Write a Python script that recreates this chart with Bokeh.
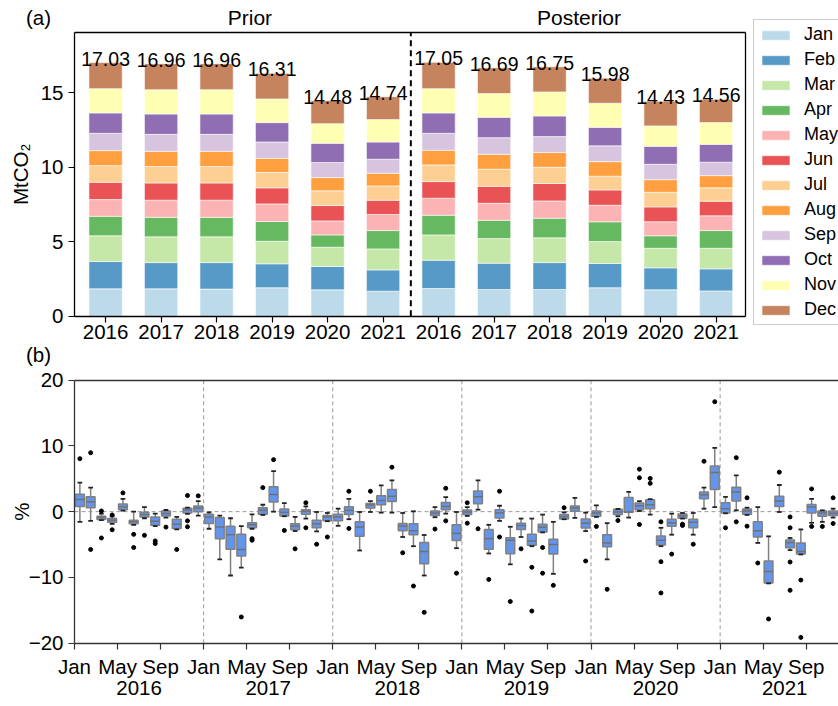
from math import pi

from bokeh.plotting import figure
from bokeh.models import (Range1d, Legend, LegendItem, FixedTicker, LinearAxis,
                          ColumnDataSource)
from bokeh.layouts import column
from bokeh.transform import dodge
from bokeh.embed import file_html
from bokeh.resources import INLINE
from bokeh.core.properties import value

FONT = "Liberation Sans"

# ---------------- (a) monthly emissions, MtCO2 ----------------
months = ["Jan", "Feb", "Mar", "Apr", "May", "Jun",
          "Jul", "Aug", "Sep", "Oct", "Nov", "Dec"]
years = [2016, 2017, 2018, 2019, 2020, 2021]

prior_2016 = [1.84, 1.83, 1.73, 1.31, 1.12, 1.16, 1.12, 1.01, 1.16, 1.37, 1.63, 1.75]
prior_2017 = [1.84, 1.76, 1.73, 1.31, 1.15, 1.16, 1.10, 1.02, 1.14, 1.37, 1.63, 1.75]
prior_2018 = [1.82, 1.78, 1.73, 1.31, 1.15, 1.16, 1.10, 1.02, 1.14, 1.37, 1.63, 1.75]
prior_2019 = [1.91, 1.61, 1.51, 1.33, 1.18, 1.08, 1.04, 0.94, 1.10, 1.30, 1.59, 1.72]
prior_2020 = [1.77, 1.57, 1.29, 0.83, 0.94, 1.03, 0.99, 0.89, 1.01, 1.29, 1.32, 1.55]
prior_2021 = [1.68, 1.43, 1.41, 1.23, 1.08, 0.96, 0.96, 0.85, 0.94, 1.16, 1.50, 1.54]

posterior_2016 = [1.86, 1.90, 1.70, 1.32, 1.14, 1.12, 1.12, 0.98, 1.14, 1.37, 1.63, 1.77]
posterior_2017 = [1.79, 1.77, 1.65, 1.23, 1.14, 1.14, 1.15, 1.00, 1.12, 1.37, 1.59, 1.74]
posterior_2018 = [1.79, 1.81, 1.66, 1.32, 1.16, 1.17, 1.09, 0.99, 1.07, 1.39, 1.61, 1.69]
posterior_2019 = [1.91, 1.63, 1.47, 1.33, 1.11, 1.03, 0.92, 0.98, 1.06, 1.24, 1.62, 1.68]
posterior_2020 = [1.77, 1.48, 1.31, 0.84, 0.94, 1.00, 0.98, 0.85, 1.03, 1.21, 1.37, 1.65]
posterior_2021 = [1.70, 1.48, 1.38, 1.19, 0.99, 0.98, 0.90, 0.82, 0.90, 1.20, 1.46, 1.56]

month_colors = ["#a6cee3", "#1f78b4", "#b2df8a", "#33a02c", "#fb9a99", "#e31a1c",
                "#fdbf6f", "#ff7f00", "#cab2d6", "#6a3d9a", "#ffff99", "#b15928"]

# ---------------- (b) monthly relative change, % ----------------
# one box per month from Jan 2016
whisker_lo = [-1.55, -1.4, -1.3, -1.85, 0.15, -2.0, -1.0, -2.2, -0.9, -2.7, -0.35, -0.6,
              -2.6, -7.25, -9.7, -8.5, -2.6, -0.5, 0.0, -0.7, -2.95, -1.05, -3.0, -1.45,
              -2.15, -1.15, -5.9, -0.05, -0.15, -0.15, -3.85, -5.25, -9.7, -0.85, -0.3, -5.55,
              -0.65, 0.3, -6.35, -1.4, -8.0, -3.85, -5.25, -3.15, -9.45, -1.15, -0.95, -2.95,
              -0.8, -7.25, -0.7, -0.9, 0.1, -0.45, -5.25, -3.5, -1.05, -3.5, 0.45, 0.7,
              -0.25, 0.2, -0.5, -4.75, -10.9, -0.05, -5.85, -6.5, -1.7, -1.55, -0.9]
quart_lo = [0.8, 0.6, -1.2, -1.6, 0.3, -1.85, -0.8, -2.05, -0.65, -2.55, -0.2, 0.0,
            -1.8, -4.1, -5.7, -6.75, -2.45, -0.4, 1.45, -0.65, -2.75, -0.4, -2.45, -1.4,
            -1.4, -0.45, -3.75, 0.55, 1.05, 1.55, -2.9, -3.5, -7.9, -0.6, 0.3, -4.4,
            -0.45, 1.2, -5.7, -0.95, -6.4, -2.7, -5.1, -3.1, -6.45, -1.1, 0.05, -2.5,
            -0.7, -5.35, -0.45, -0.1, 0.3, 0.45, -5.05, -2.2, -1.0, -2.45, 1.95, 3.35,
            -0.2, 1.6, -0.4, -3.85, -10.85, 0.8, -5.5, -6.45, -0.2, -0.7, -0.6]
medians = [1.85, 1.5, -0.9, -1.3, 0.75, -1.55, -0.45, -1.45, -0.3, -1.9, 0.25, 0.55,
           -0.8, -2.35, -3.5, -5.75, -2.0, 0.2, 2.6, -0.1, -2.2, 0.05, -1.85, -0.8,
           -0.8, 0.2, -2.35, 1.0, 1.7, 2.35, -2.2, -2.9, -6.05, -0.2, 0.8, -3.3,
           -0.05, 2.25, -4.1, -0.2, -4.35, -2.1, -4.45, -2.35, -5.0, -0.75, 0.55, -1.75,
           -0.2, -4.75, -0.05, -0.05, 0.9, 1.05, -4.35, -1.7, -0.65, -1.6, 2.55, 5.95,
           0.45, 3.0, 0.1, -2.9, -9.1, 1.6, -4.7, -6.05, 0.7, -0.2, -0.25]
quart_hi = [2.65, 2.25, -0.7, -1.05, 1.15, -1.3, -0.1, -0.8, 0.1, -1.15, 0.5, 0.85,
            -0.4, -0.9, -2.2, -3.45, -1.7, 0.6, 3.8, 0.4, -1.85, 0.3, -1.3, -0.6,
            -0.4, 0.75, -1.55, 1.25, 2.4, 3.35, -1.8, -1.85, -4.7, 0.1, 1.4, -2.0,
            0.25, 3.15, -2.7, 0.3, -3.95, -1.75, -3.45, -1.9, -4.2, -0.45, 0.85, -1.1,
            0.1, -3.5, 0.35, 2.15, 1.3, 1.8, -3.7, -1.15, -0.35, -1.15, 3.0, 6.95,
            1.35, 3.7, 0.4, -1.55, -7.5, 2.35, -4.3, -4.75, 1.1, 0.1, 0.1]
whisker_hi = [4.4, 3.65, -0.3, -0.7, 1.95, 0.0, 0.7, -0.3, 0.25, -0.8, 0.6, 1.6,
              -0.1, -0.6, -1.0, -2.2, -0.4, 1.05, 6.15, 1.3, -0.8, 0.8, -0.05, -0.2,
              0.45, 1.95, -0.05, 1.6, 4.0, 4.75, -0.2, 0.05, -3.55, 0.7, 2.2, -0.05,
              0.7, 4.75, -2.0, 0.9, -2.3, -1.05, -1.05, -0.45, -1.55, -0.1, 2.1, -0.15,
              0.95, -1.75, 0.4, 3.0, 1.6, 1.9, -2.45, -0.3, -0.2, -0.2, 3.65, 9.7,
              2.25, 5.5, 0.6, 0.7, -3.75, 4.05, -4.0, -2.7, 1.95, 0.2, 0.45]
outliers = [[8.05], [8.95, -5.75], [0.1, -4.0], [-0.5, -2.75], [2.85], [-3.45, -5.45],
            [-3.6], [-4.45, -4.85], [-2.35], [-5.75], [2.45, -1.4, -2.3], [2.4],
            [], [], [], [-16.0], [-4.1, -4.35], [3.65],
            [7.9], [-2.85], [-5.65], [1.35, -2.45], [-4.95], [-3.85],
            [], [3.1, -2.55], [], [3.1], [], [6.75],
            [-6.25], [-11.3], [-15.3], [-2.65], [3.55, -1.4], [-9.35],
            [1.35, -1.75], [-2.6], [-10.3], [3.1, -3.85], [-13.65], [-5.65],
            [-8.45, -15.1], [-5.45, -9.35], [-11.2], [0.6], [], [-7.5],
            [-2.25], [-11.8], [-1.35], [], [6.45, 5.15, -1.95], [5.05, 4.3],
            [-1.55, -7.6, -12.35], [-6.45], [-1.9, -2.1], [-4.95], [7.65], [16.7],
            [-2.45], [8.2, -1.55], [2.1, -2.2], [-7.8], [-16.3], [6.0],
            [-0.8, -2.45, -7.65, -11.95], [-10.4, -19.1], [3.45, -2.25], [-2.25], [2.1, -1.8]]

month_ticks = {0: "Jan", 4: "May", 8: "Sep"}

TICK_FONT = "20.5px"
TOP_H = 367          # canvas height of panel (a); panel (b) fills the rest
BOTTOM_H = 706 - TOP_H


def padded_ranges(xlim, ylim, box_px, size_px):
    """Ranges for a frame covering the whole canvas, such that the axes box
    (left, right, top, bottom in canvas pixels) spans xlim / ylim."""
    left, right, top, bottom = box_px
    w, h = size_px
    ux = (xlim[1] - xlim[0]) / (right - left)
    uy = (ylim[1] - ylim[0]) / (bottom - top)
    xr = Range1d(xlim[0] - left * ux, xlim[1] + (w - right) * ux)
    yr = Range1d(ylim[0] - (h - bottom) * uy, ylim[1] + top * uy)
    return xr, yr


def style_axis(ax, line_color="black"):
    ax.major_label_text_font = FONT
    ax.major_label_text_font_size = TICK_FONT
    ax.major_label_text_color = "black"
    ax.minor_tick_line_color = None
    ax.major_tick_in = 0
    ax.major_tick_out = 6
    ax.major_tick_line_color = line_color
    ax.major_tick_line_width = 1.2
    ax.axis_line_color = line_color
    ax.axis_line_width = 1.3


def frame_edge(p, side, loc, bounds, line_color):
    ax = LinearAxis(ticker=FixedTicker(ticks=[]), fixed_location=loc, bounds=bounds)
    ax.axis_line_color = line_color
    ax.axis_line_width = 1.3
    ax.major_tick_line_color = None
    ax.minor_tick_line_color = None
    p.add_layout(ax, side)


def new_figure(w, h, xlim, ylim, box_px):
    xr, yr = padded_ranges(xlim, ylim, box_px, (w, h))
    p = figure(width=w, height=h, x_range=xr, y_range=yr, title=None,
               output_backend="svg", toolbar_location=None,
               min_border_left=0, min_border_right=0, min_border_top=0, min_border_bottom=0)
    p.xgrid.grid_line_color = None
    p.ygrid.grid_line_color = None
    p.outline_line_color = None
    p.background_fill_color = "white"
    p.border_fill_color = "white"
    return p


def put_text(p, x, y, text, size="20.5px", **kw):
    p.text(x=[x], y=[y], text=[text], text_align="center", text_baseline="middle",
           text_font=value(FONT), text_font_size=size, text_color="black", **kw)


# ================= panel (a) =================
XA = (-0.56, 11.53)
YA = (0, 19.05)
p1 = new_figure(838, TOP_H, XA, YA, (74, 745, 32, 315.7))

bars = [prior_2016, prior_2017, prior_2018, prior_2019, prior_2020, prior_2021,
        posterior_2016, posterior_2017, posterior_2018, posterior_2019, posterior_2020, posterior_2021]
bar_x = list(range(len(bars)))
stack_data = {"x": bar_x}
for m_i, m in enumerate(months):
    stack_data[m] = [b[m_i] for b in bars]
stack_src = ColumnDataSource(stack_data)

stack = p1.vbar_stack(months, x="x", width=0.6, color=month_colors, fill_alpha=0.75,
                      line_color="white", line_alpha=0.6, line_width=1, source=stack_src)

totals = [sum(b) for b in bars]
p1.text(x=bar_x, y=totals, text=[f"{t:.2f}" for t in totals], text_align="center",
        text_baseline="alphabetic", y_offset=-4, text_font=value(FONT),
        text_font_size="19.5px", text_color="black")

# prior | posterior divider
p1.segment(x0=[5.5], y0=[YA[0]], x1=[5.5], y1=[YA[1]], line_color="black",
           line_dash="6 4", line_width=2)

p1.xaxis.fixed_location = YA[0]
p1.xaxis.bounds = XA
p1.xaxis.ticker = FixedTicker(ticks=bar_x)
p1.xaxis.major_label_overrides = {i: str(years[i % 6]) for i in bar_x}
p1.xaxis.major_label_standoff = 3
p1.yaxis.fixed_location = XA[0]
p1.yaxis.bounds = YA
p1.yaxis.ticker = FixedTicker(ticks=[0, 5, 10, 15])
p1.yaxis.major_label_standoff = 5
for ax in p1.xaxis + p1.yaxis:
    style_axis(ax)
frame_edge(p1, "above", YA[1], XA, "black")
frame_edge(p1, "right", XA[1], YA, "black")

put_text(p1, 2.6, YA[1], "Prior", size="21px", y_offset=-15)
put_text(p1, 8.53, YA[1], "Posterior", size="21px", y_offset=-15)
put_text(p1, XA[0], YA[1], "(a)", x_offset=-36, y_offset=-15)
put_text(p1, XA[0], (YA[0] + YA[1]) / 2, "MtCO₂", x_offset=-54, angle=pi / 2)
# label of the lower panel sits in the gap below this one
put_text(p1, XA[0], YA[0], "(b)", x_offset=-36, y_offset=38.5)

legend = Legend(items=[LegendItem(label=m, renderers=[r]) for m, r in zip(months, stack)],
                location=(753, TOP_H - 325), glyph_width=35, glyph_height=12,
                label_height=20, label_width=60, spacing=4, padding=4, label_standoff=11,
                label_text_font=FONT, label_text_font_size="18px", label_text_color="black",
                border_line_color="#cccccc", border_line_width=1, border_line_alpha=1,
                background_fill_color="white", background_fill_alpha=1)
p1.add_layout(legend)

# ================= panel (b) =================
n_box = len(medians)
XB = (0, 71.0)
YB = (-20, 20)
p2 = new_figure(838, BOTTOM_H, XB, YB, (74, 838, 379.5 - TOP_H, 642.8 - TOP_H))

# year boundaries and zero line
year_starts = [12 * k for k in range(1, 6)]
p2.segment(x0=year_starts, y0=[YB[0]] * 5, x1=year_starts, y1=[YB[1]] * 5,
           line_color="#9a9a9a", line_dash="4 3", line_width=1)
p2.segment(x0=[XB[0]], y0=[0], x1=[XB[1]], y1=[0], line_color="#9a9a9a",
           line_dash="4 3", line_width=1)

box_src = ColumnDataSource(dict(x=[i + 0.5 for i in range(n_box)], lo=whisker_lo, q1=quart_lo,
                                med=medians, q3=quart_hi, hi=whisker_hi))
p2.segment(x0="x", y0="q3", x1="x", y1="hi", line_color="#808080", line_width=1.5, source=box_src)
p2.segment(x0="x", y0="lo", x1="x", y1="q1", line_color="#808080", line_width=1.5, source=box_src)
p2.vbar(x="x", width=0.82, top="q3", bottom="q1", fill_color="#6495ED", line_color="#808080",
        line_width=1.5, source=box_src)
p2.segment(x0=dodge("x", -0.41), y0="med", x1=dodge("x", 0.41), y1="med", line_color="#707070",
           line_width=1.5, source=box_src)
for col in ["lo", "hi"]:
    p2.segment(x0=dodge("x", -0.22), y0=col, x1=dodge("x", 0.22), y1=col, line_color="#222222",
               line_width=1.8, source=box_src)

out_x = [i + 0.5 for i, pts in enumerate(outliers) for _ in pts]
out_y = [v for pts in outliers for v in pts]
p2.scatter(x=out_x, y=out_y, size=4, color="black")

p2.xaxis.fixed_location = YB[0]
p2.xaxis.bounds = XB
p2.xaxis.ticker = FixedTicker(ticks=[y * 12 + m for y in range(6) for m in (0, 4, 8)])
p2.xaxis.major_label_overrides = {y * 12 + m: month_ticks[m] for y in range(6) for m in (0, 4, 8)}
p2.xaxis.major_label_standoff = 6
p2.yaxis.fixed_location = XB[0]
p2.yaxis.bounds = YB
p2.yaxis.ticker = FixedTicker(ticks=[-20, -10, 0, 10, 20])
p2.yaxis.major_label_overrides = {-20: "−20", -10: "−10", 0: "0", 10: "10", 20: "20"}
p2.yaxis.major_label_standoff = 5
for ax in p2.xaxis + p2.yaxis:
    style_axis(ax, "#333333")

year_axis = LinearAxis(ticker=FixedTicker(ticks=[y * 12 + 6 for y in range(6)]),
                       major_label_overrides={y * 12 + 6: str(years[y]) for y in range(6)},
                       fixed_location=YB[0], bounds=XB)
style_axis(year_axis)
year_axis.major_tick_out = 0
year_axis.major_tick_line_color = None
year_axis.axis_line_color = None
year_axis.major_label_standoff = 38
p2.add_layout(year_axis, "below")

frame_edge(p2, "above", YB[1], XB, "#333333")

put_text(p2, XB[0], 0, "%", x_offset=-53, angle=pi / 2)

layout = column(p1, p2)
open("out.html", "w").write(file_html(layout, INLINE))
